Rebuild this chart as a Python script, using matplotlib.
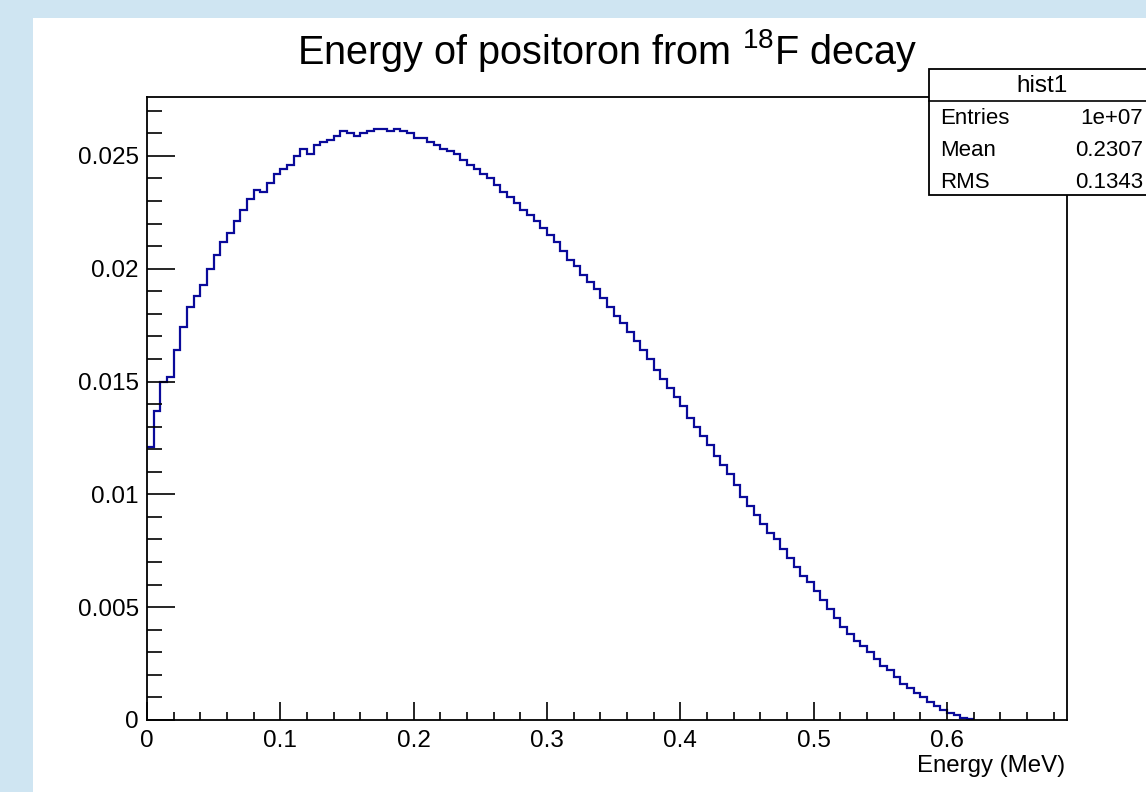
import numpy as np
import matplotlib
matplotlib.use("Agg")
import matplotlib.pyplot as plt
from matplotlib.patches import Rectangle
from matplotlib.ticker import MultipleLocator, FuncFormatter

plt.rcParams['font.family'] = ['Liberation Sans', 'DejaVu Sans']
plt.rcParams['mathtext.fontset'] = 'custom'
plt.rcParams['mathtext.rm'] = 'Liberation Sans'

# histogram: bin width 0.005 MeV
bin_width = 0.005
counts = [
    0.0121, 0.0137, 0.0150, 0.0152, 0.0164, 0.0174, 0.0183, 0.0188, 0.0193, 0.0200,
    0.0206, 0.0212, 0.0216, 0.0221, 0.0226, 0.0231, 0.0235, 0.0234, 0.0238, 0.0242,
    0.0244, 0.0246, 0.0250, 0.0253, 0.0251, 0.0255, 0.0256, 0.0257, 0.0259, 0.0261,
    0.0260, 0.0259, 0.0260, 0.0261, 0.0262, 0.0262, 0.0261, 0.0262, 0.0261, 0.0260,
    0.0258, 0.0258, 0.0256, 0.0255, 0.0253, 0.0252, 0.0251, 0.0248, 0.0246, 0.0244,
    0.0242, 0.0240, 0.0237, 0.0234, 0.0232, 0.0229, 0.0226, 0.0224, 0.0221, 0.0218,
    0.0215, 0.0212, 0.0208, 0.0204, 0.0201, 0.0197, 0.0194, 0.0191, 0.0187, 0.0183,
    0.0179, 0.0176, 0.0172, 0.0168, 0.0164, 0.0160, 0.0155, 0.0151, 0.0147, 0.0143,
    0.0139, 0.0134, 0.0130, 0.0126, 0.0122, 0.0117, 0.0113, 0.0109, 0.0104, 0.0099,
    0.0095, 0.0091, 0.0087, 0.0083, 0.0080, 0.0076, 0.0072, 0.0068, 0.0064, 0.0061,
    0.0057, 0.0053, 0.0049, 0.0045, 0.0041, 0.0038, 0.0035, 0.0033, 0.0030, 0.0027,
    0.0024, 0.0022, 0.0019, 0.0016, 0.0014, 0.0012, 0.0010, 0.0008, 0.0006, 0.00044,
    0.0003, 0.0002, 0.0001, 0.00004,
]
edges = np.arange(len(counts) + 1) * bin_width

stats_labels = ["Entries", "Mean", "RMS"]
stats_values = ["1e+07", "0.2307", "0.1343"]

W, H = 1146, 792
fig = plt.figure(figsize=(W / 100, H / 100), dpi=100)
fig.patch.set_facecolor("#cfe5f2")


def fx(px):
    return px / W


def fy(py):
    return 1 - py / H


# white canvas
fig.add_artist(Rectangle((fx(33), 0), 1 - fx(33), fy(18), transform=fig.transFigure,
                         facecolor="white", edgecolor="none", zorder=0))

ax = fig.add_axes([fx(147), fy(720), fx(1067) - fx(147), fy(97) - fy(720)])
ax.set_facecolor("white")
ax.stairs(counts, edges, baseline=None, color="#0a0a9a", linewidth=1.6)

ax.set_xlim(0, 0.69)
ax.set_ylim(0, 0.02761)
ax.xaxis.set_major_locator(MultipleLocator(0.1))
ax.xaxis.set_minor_locator(MultipleLocator(0.02))
ax.yaxis.set_major_locator(MultipleLocator(0.005))
ax.yaxis.set_minor_locator(MultipleLocator(0.001))
fmt = FuncFormatter(lambda v, p: "%g" % round(v, 4))
ax.xaxis.set_major_formatter(fmt)
ax.yaxis.set_major_formatter(fmt)

ax.tick_params(axis="both", which="both", direction="in", colors="black",
               labelsize=17.5, width=1.2)
ax.tick_params(axis="x", which="major", length=13, pad=7)
ax.tick_params(axis="x", which="minor", length=5.8)
ax.tick_params(axis="y", which="major", length=20, pad=6)
ax.tick_params(axis="y", which="minor", length=10.8)
for s in ax.spines.values():
    s.set_linewidth(1.3)

fig.text(fx(607), fy(50), r"Energy of positoron from $^{\mathrm{18}}$F decay",
         ha="center", va="center", fontsize=28.5)
fig.text(fx(1065), fy(766), "Energy (MeV)", ha="right", va="center", fontsize=17.3)

# stats box
fig.add_artist(Rectangle((fx(929), fy(195)), fx(1160) - fx(929), fy(69) - fy(195),
                         transform=fig.transFigure, facecolor="white",
                         edgecolor="black", linewidth=1.3, zorder=5))
fig.add_artist(plt.Line2D([fx(929), 1], [fy(101), fy(101)], transform=fig.transFigure,
                          color="black", linewidth=1.2, zorder=6))
fig.text(fx(1042), fy(86), "hist1", ha="center", va="center", fontsize=17.5, zorder=7)
for i, (lab, val) in enumerate(zip(stats_labels, stats_values)):
    yy = fy(119 + 32 * i)
    fig.text(fx(940), yy, lab, ha="left", va="center", fontsize=16, zorder=7)
    fig.text(fx(1143), yy, val, ha="right", va="center", fontsize=16, zorder=7)

fig.savefig("out.png", dpi=100, facecolor=fig.get_facecolor())
